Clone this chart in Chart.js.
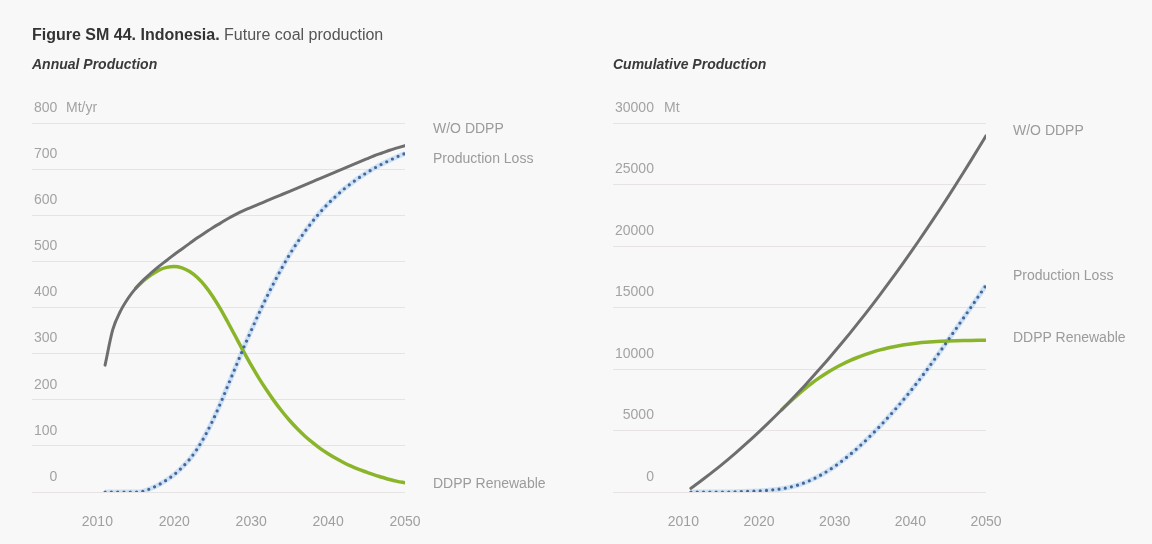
<!DOCTYPE html>
<html><head><meta charset="utf-8">
<script src="https://cdn.jsdelivr.net/npm/chart.js@4/dist/chart.umd.min.js"></script>
<style>
html,body{margin:0;padding:0;background:#f8f8f8;}
#wrap{position:relative;width:1152px;height:544px;overflow:hidden;font-family:"Liberation Sans",Arial,sans-serif;}
canvas{position:absolute;top:0;}
.t{position:absolute;white-space:nowrap;line-height:1;}
.title{left:32px;top:27px;font-size:16px;color:#555;}
.title b{color:#333;}
.sub{top:57px;font-size:14px;font-weight:bold;font-style:italic;color:#3a3a3a;}
.unit{font-size:14px;color:#a3a3a3;}
.lab{font-size:14px;color:#9b9b9b;}
</style></head>
<body><div id="wrap">
<canvas id="c1" width="576" height="544" style="left:0"></canvas>
<canvas id="c2" width="576" height="544" style="left:576px"></canvas>
<div class="t title"><b>Figure SM 44. Indonesia.</b> Future coal production</div>
<div class="t sub" style="left:32px">Annual Production</div>
<div class="t sub" style="left:613px">Cumulative Production</div>
<div class="t unit" style="left:66px;top:100px">Mt/yr</div>
<div class="t unit" style="left:664px;top:100px">Mt</div>
<div class="t lab" style="left:433px;top:121px">W/O DDPP</div>
<div class="t lab" style="left:433px;top:151px">Production Loss</div>
<div class="t lab" style="left:433px;top:476px">DDPP Renewable</div>
<div class="t lab" style="left:1013px;top:123px">W/O DDPP</div>
<div class="t lab" style="left:1013px;top:268px">Production Loss</div>
<div class="t lab" style="left:1013px;top:330px">DDPP Renewable</div>
</div>
<script>
const years = [2011,2012,2013,2014,2015,2016,2017,2018,2019,2020,
               2021,2022,2023,2024,2025,2026,2027,2028,2029,2030,
               2031,2032,2033,2034,2035,2036,2037,2038,2039,2040,
               2041,2042,2043,2044,2045,2046,2047,2048,2049,2050];
const xTicks = [2010, 2020, 2030, 2040, 2050];

// Annual production (Mt/yr)
const annualWithout = [275,352,392,420,442,460,475,489,502,515,
                       527,539,551,562,573,583,593,602,610,617,
                       624,631,638,645,652,659,666,673,680,687,
                       694,701,708,715,722,729,735,741,746,751];
const annualRenewable = [null,null,null,null,442,458,471,481,487,489,
                         486,478,465,447,424,397,367,336,305,275,
                         247,221,197,175,155,137,121,107,94,83,
                         73,64,56,49,43,37,32,27,23,20];
const annualLoss = [0,0,0,0,0,2,8,16,26,38,
                    53,71,94,122,155,192,232,272,312,350,
                    387,422,455,486,515,541,565,587,607,625,
                    641,656,669,681,692,702,711,719,727,734];
const annualTicks = [0,100,200,300,400,500,600,700,800];

// Cumulative production (Mt)
const cumWithout = [300,750,1215,1695,2190,2700,3225,3765,4320,4890,
                    5475,6075,6690,7320,7965,8625,9300,9990,10695,11415,
                    12150,12900,13665,14445,15240,16050,16875,17715,18570,19440,
                    20325,21225,22140,23070,24015,24975,25950,26940,27945,28965];
const cumRenewable = [null,null,null,null,null,null,null,null,null,null,
                      null,null,6690,7280,7840,8365,8850,9295,9700,10065,
                      10385,10675,10935,11165,11370,11550,11705,11835,11945,12035,
                      12110,12170,12217,12253,12280,12300,12315,12326,12334,12339];
const cumLoss = [0,0,0,0,0,0,15,35,60,90,
                 130,185,265,380,540,750,1010,1320,1680,2085,
                 2535,3025,3555,4125,4735,5365,6025,6715,7435,8185,
                 8965,9775,10615,11475,12355,13235,14120,15010,15905,16805];
const cumTicks = [0,5000,10000,15000,20000,25000,30000];

const FONT = '"Liberation Sans", Arial, sans-serif';
const pts = arr => arr.map((v, i) => ({x: years[i], y: v}));

function makeChart(id, without, renewable, loss, yTicks, xMin, pad) {
  const yMax = yTicks[yTicks.length - 1];
  return new Chart(document.getElementById(id), {
    type: 'line',
    data: {
      datasets: [
        {label: 'W/O DDPP', data: pts(without), borderColor: '#6e6e6e', borderWidth: 3,
         pointRadius: 0, cubicInterpolationMode: 'monotone', borderCapStyle: 'round'},
        {label: 'Production Loss', data: pts(loss), borderColor: '#46659b', borderWidth: 3.2,
         borderDash: [0, 6.3], borderCapStyle: 'round', pointRadius: 0, cubicInterpolationMode: 'monotone'},
        {label: 'DDPP Renewable', data: pts(renewable), borderColor: '#8ab52a', borderWidth: 3.5,
         pointRadius: 0, cubicInterpolationMode: 'monotone', borderCapStyle: 'round'},
        {label: 'halo', data: pts(loss), borderColor: 'rgba(170,205,240,0.55)', borderWidth: 5,
         pointRadius: 0, cubicInterpolationMode: 'monotone'}
      ]
    },
    options: {
      responsive: false, animation: false, devicePixelRatio: 1,
      layout: {padding: pad},
      plugins: {legend: {display: false}, tooltip: {enabled: false}},
      scales: {
        x: {
          type: 'linear', min: xMin, max: 2050,
          afterBuildTicks: s => { s.ticks = xTicks.map(v => ({value: v})); },
          afterFit: s => { s.height = 52; },
          grid: {display: false}, border: {display: false},
          ticks: {color: '#9f9f9f', font: {family: FONT, size: 14}, padding: 14,
                  callback: v => String(v)}
        },
        y: {
          min: 0, max: yMax,
          afterBuildTicks: s => { s.ticks = yTicks.map(v => ({value: v})); },
          afterFit: s => { s.width = 0; },
          grid: {color: '#e7e3e3', lineWidth: 1, drawTicks: false},
          border: {display: false},
          ticks: {mirror: true, crossAlign: 'far', padding: 2, labelOffset: -15,
                  color: '#a3a3a3', font: {family: FONT, size: 14},
                  callback: v => String(v)}
        }
      }
    }
  });
}

makeChart('c1', annualWithout, annualRenewable, annualLoss, annualTicks, 2001.5,
          {left: 32, right: 171, top: 123, bottom: 0});
makeChart('c2', cumWithout, cumRenewable, cumLoss, cumTicks, 2000.7,
          {left: 37, right: 166, top: 123, bottom: 0});
</script>
</body></html>
